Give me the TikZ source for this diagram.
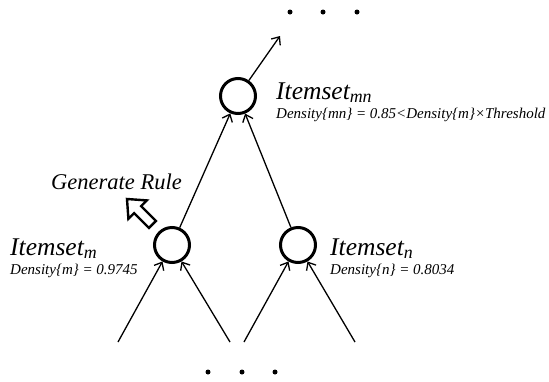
\documentclass[tikz,border=0pt]{standalone}
\usepackage{fontspec}
\setmainfont{Liberation Serif}
\usetikzlibrary{arrows.meta}
\begin{document}
\begin{tikzpicture}[x=1pt,y=-1pt,
  itemnode/.style={circle,draw,line width=3pt,minimum size=35pt,inner sep=0pt},
  link/.style={line width=1.3pt},
  linkarrow/.style={link,-{Straight Barb[length=6.5pt,width=11pt]}},
  bigtitle/.style={anchor=base west,inner sep=0pt,font=\fontsize{25.5}{30}\selectfont\itshape},
  ruletext/.style={anchor=base west,inner sep=0pt,font=\fontsize{22.5}{26}\selectfont\itshape},
  smalltext/.style={anchor=base west,inner sep=0pt,font=\fontsize{15}{17}\selectfont\itshape},
  dotmark/.style={circle,fill,inner sep=0pt,minimum size=5pt}]
\useasboundingbox (0,0) rectangle (549,381);

% itemset nodes
\node[itemnode] (mn) at (238,96) {};
\node[itemnode] (m) at (172,245) {};
\node[itemnode] (n) at (298,245) {};

% free ends of the connectors
\coordinate (up) at (280,36);
\coordinate (m1) at (118,342);
\coordinate (m2) at (230,342);
\coordinate (n1) at (244,342);
\coordinate (n2) at (355,342);

% connectors
\draw[linkarrow] (mn) -- (up);
\draw[linkarrow] (m) -- (mn);
\draw[linkarrow] (n) -- (mn);
\draw[linkarrow] (m1) -- (m.-120);
\draw[linkarrow] (m2) -- (m.-60);
\draw[linkarrow] (n1) -- (n.-120);
\draw[linkarrow] (n2) -- (n.-60);

% ellipsis dots
\node[dotmark] (t1) at (290,12) {};
\node[dotmark] (t2) at (323,12) {};
\node[dotmark] (t3) at (357,12) {};
\node[dotmark] (b1) at (208,372) {};
\node[dotmark] (b2) at (242,372) {};
\node[dotmark] (b3) at (275,372) {};

% hollow block arrow next to the rule label
\draw[line width=2.4pt,line join=miter]
  (127,199) -- (146.8,200.4) -- (141.1,206.1) -- (155.9,220.9)
  -- (148.9,227.9) -- (134.1,213.1) -- (128.4,218.8) -- cycle;

% labels
\node[ruletext] (gen) at (51,189) {Generate Rule};
\node[bigtitle] (lm) at (10,255) {Itemset\textsubscript{m}};
\node[smalltext] (dm) at (10,274) {Density\{m\} = 0.9745};
\node[bigtitle] (lmn) at (276,99) {Itemset\textsubscript{mn}};
\node[smalltext] (dmn) at (276,118) {Density\{mn\} = 0.85<Density\{m\}×Threshold};
\node[bigtitle] (ln) at (330,255) {Itemset\textsubscript{n}};
\node[smalltext] (dn) at (330,274) {Density\{n\} = 0.8034};
\end{tikzpicture}
\end{document}
